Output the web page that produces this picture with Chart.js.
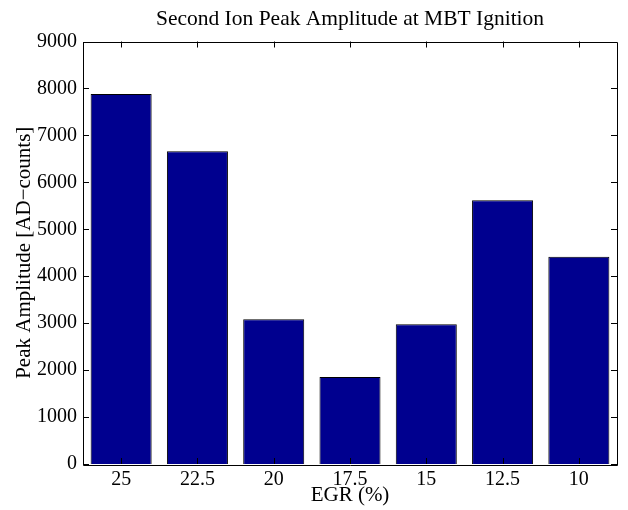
<!DOCTYPE html>
<html lang="en">
<head>
<meta charset="utf-8">
<title>Second Ion Peak Amplitude at MBT Ignition</title>
<script src="https://cdn.jsdelivr.net/npm/chart.js"></script>
<style>
  html, body { margin: 0; padding: 0; background: #fff; }
  #wrap { width: 628px; height: 510px; }
</style>
</head>
<body>
<div id="wrap"><canvas id="myChart" width="628" height="510"></canvas></div>
<script>
    // data
    var egr_labels = ['25', '22.5', '20', '17.5', '15', '12.5', '10'];
    var peak_amplitude = [7880, 6660, 3085, 1855, 2978, 5621, 4413];

    var fontFamily = "'Liberation Serif', 'Times New Roman', serif";

    // matlab style box with inward ticks
    var boxTicks = {
        id: 'boxTicks',
        afterDraw: function(chart) {
            var c = chart.ctx, a = chart.chartArea;
            var xs = chart.scales.x, ys = chart.scales.y;
            var len = 6;
            c.save();
            c.strokeStyle = '#000';
            c.lineWidth = 1;
            c.beginPath();
            c.rect(Math.round(a.left) + 0.5, Math.round(a.top) + 0.5,
                   Math.round(a.right - a.left), Math.round(a.bottom - a.top));
            xs.ticks.forEach(function(t, i) {
                var px = Math.round(xs.getPixelForTick(i)) + 0.5;
                c.moveTo(px, a.bottom); c.lineTo(px, a.bottom - len);
                c.moveTo(px, a.top); c.lineTo(px, a.top + len);
            });
            ys.ticks.forEach(function(t) {
                var py = Math.round(ys.getPixelForValue(t.value)) + 0.5;
                c.moveTo(a.left, py); c.lineTo(a.left + len, py);
                c.moveTo(a.right, py); c.lineTo(a.right - len, py);
            });
            c.stroke();
            c.restore();
        }
    };

    let ctx = document.getElementById('myChart').getContext('2d');
    let myChart = new Chart(ctx, {
        type: 'bar',
        data: {
            labels: egr_labels,
            datasets: [{
                label: 'Peak Amplitude',
                data: peak_amplitude,
                backgroundColor: '#00008f',
                borderColor: '#000',
                borderWidth: 1,
                barPercentage: 0.8,
                categoryPercentage: 1.0
            }]
        },
        options: {
            responsive: false,
            animation: false,
            layout: { padding: { left: 0, right: 11, top: 0, bottom: 0 } },
            plugins: {
                legend: { display: false },
                tooltip: { enabled: false },
                title: {
                    display: true,
                    fullSize: false,
                    text: 'Second Ion Peak Amplitude at MBT Ignition',
                    color: '#000',
                    font: { family: fontFamily, size: 21.5, weight: 'normal' },
                    padding: { top: 6, bottom: 9.7 }
                }
            },
            scales: {
                x: {
                    grid: { display: false, drawTicks: false },
                    border: { display: false },
                    ticks: {
                        color: '#000',
                        font: { family: fontFamily, size: 20 },
                        padding: 4,
                        maxRotation: 0
                    },
                    title: {
                        display: true,
                        text: 'EGR (%)',
                        color: '#000',
                        font: { family: fontFamily, size: 21 },
                        padding: { top: 0, bottom: 2 }
                    },
                    afterFit: function(s) { s.height = 46; }
                },
                y: {
                    min: 0,
                    max: 9000,
                    grid: { display: false, drawTicks: false },
                    border: { display: false },
                    ticks: {
                        stepSize: 1000,
                        color: '#000',
                        font: { family: fontFamily, size: 20 },
                        padding: 6,
                        callback: function(v) { return String(v); }
                    },
                    title: {
                        display: true,
                        text: 'Peak Amplitude [AD\u2212counts]',
                        color: '#000',
                        font: { family: fontFamily, size: 21 },
                        padding: { top: 12, bottom: 0 }
                    },
                    afterFit: function(s) { s.width = 83; }
                }
            }
        },
        plugins: [boxTicks]
    });
</script>
</body>
</html>
